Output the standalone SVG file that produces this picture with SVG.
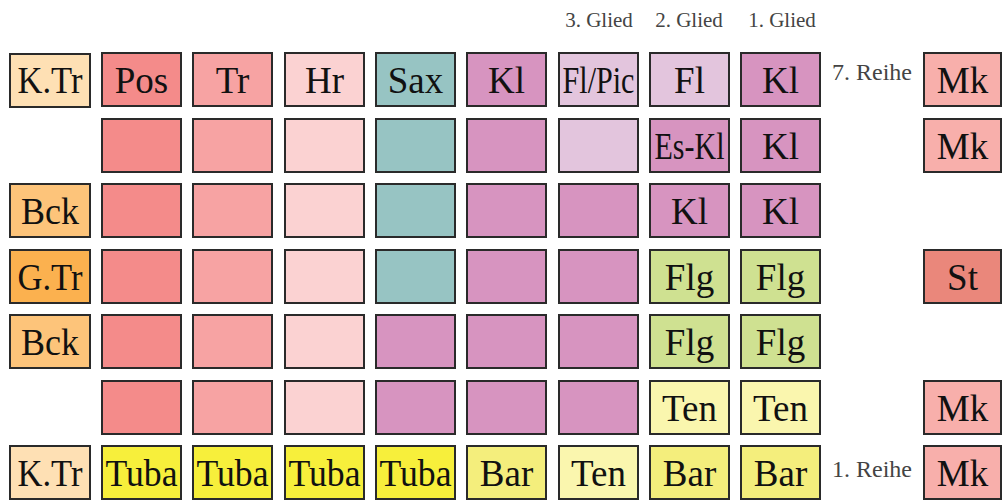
<svg xmlns="http://www.w3.org/2000/svg" width="1004" height="500" viewBox="0 0 1004 500">
<style>
rect{stroke:#2a2a2a;stroke-width:2}
text{font-family:'Liberation Serif','DejaVu Serif',serif}
.t{font-size:37px;fill:#111;text-anchor:middle}
.g{font-size:21px;fill:#444;text-anchor:middle}
.r{font-size:24px;fill:#444;text-anchor:middle}
.pos{fill:#F48B8A}.tr{fill:#F7A3A3}.hr{fill:#FBD2D2}.sax{fill:#97C4C3}.kl{fill:#D794C0}.fp{fill:#E3C5DD}
.ktr{fill:#FEE0B4}.bck{fill:#FDC47A}.gtr{fill:#FBB14F}.flg{fill:#CFE191}.ten{fill:#FAF6AE}.bar{fill:#F4EE7C}
.tuba{fill:#F7EF3B}.mk{fill:#F8AFAB}.st{fill:#EA877B}
</style>
<g id="labels">
<text class="g" x="599" y="27">3. Glied</text>
<text class="g" x="689" y="27">2. Glied</text>
<text class="g" x="782" y="27">1. Glied</text>
<text class="r" x="872" y="80">7. Reihe</text>
<text class="r" x="872" y="477">1. Reihe</text>
</g>
<g id="connectors"></g>
<!-- Row 1 -->
<g id="r1c0"><rect class="ktr" x="10" y="54" width="80" height="53"/><text class="t" x="50" y="93" textLength="65" lengthAdjust="spacingAndGlyphs">K.Tr</text></g>
<g id="r1c1"><rect class="pos" x="102" y="53" width="79" height="53"/><text class="t" x="141.5" y="93">Pos</text></g>
<g id="r1c2"><rect class="tr" x="193" y="53" width="79" height="53"/><text class="t" x="232.5" y="93">Tr</text></g>
<g id="r1c3"><rect class="hr" x="285" y="53" width="79" height="53"/><text class="t" x="324.5" y="93">Hr</text></g>
<g id="r1c4"><rect class="sax" x="376" y="53" width="79" height="53"/><text class="t" x="415.5" y="93">Sax</text></g>
<g id="r1c5"><rect class="kl" x="467" y="53" width="79" height="53"/><text class="t" x="506.5" y="93">Kl</text></g>
<g id="r1c6"><rect class="fp" x="559" y="53" width="79" height="53"/><text class="t" x="598.5" y="93" textLength="72" lengthAdjust="spacingAndGlyphs">Fl/Pic</text></g>
<g id="r1c7"><rect class="fp" x="650" y="53" width="79" height="53"/><text class="t" x="689.5" y="93">Fl</text></g>
<g id="r1c8"><rect class="kl" x="741" y="53" width="79" height="53"/><text class="t" x="780.5" y="93">Kl</text></g>
<g id="r1mk"><rect class="mk" x="924" y="53" width="77" height="53"/><text class="t" x="962.5" y="93">Mk</text></g>
<!-- Row 2 -->
<g id="r2c1"><rect class="pos" x="102" y="119" width="79" height="53"/></g>
<g id="r2c2"><rect class="tr" x="193" y="119" width="79" height="53"/></g>
<g id="r2c3"><rect class="hr" x="285" y="119" width="79" height="53"/></g>
<g id="r2c4"><rect class="sax" x="376" y="119" width="79" height="53"/></g>
<g id="r2c5"><rect class="kl" x="467" y="119" width="79" height="53"/></g>
<g id="r2c6"><rect class="fp" x="559" y="119" width="79" height="53"/></g>
<g id="r2c7"><rect class="kl" x="650" y="119" width="79" height="53"/><text class="t" x="689.5" y="159" textLength="70" lengthAdjust="spacingAndGlyphs">Es-Kl</text></g>
<g id="r2c8"><rect class="kl" x="741" y="119" width="79" height="53"/><text class="t" x="780.5" y="159">Kl</text></g>
<g id="r2mk"><rect class="mk" x="924" y="119" width="77" height="53"/><text class="t" x="962.5" y="159">Mk</text></g>
<!-- Row 3 -->
<g id="r3c0"><rect class="bck" x="10" y="184" width="80" height="53"/><text class="t" x="50" y="224" textLength="58" lengthAdjust="spacingAndGlyphs">Bck</text></g>
<g id="r3c1"><rect class="pos" x="102" y="184" width="79" height="53"/></g>
<g id="r3c2"><rect class="tr" x="193" y="184" width="79" height="53"/></g>
<g id="r3c3"><rect class="hr" x="285" y="184" width="79" height="53"/></g>
<g id="r3c4"><rect class="sax" x="376" y="184" width="79" height="53"/></g>
<g id="r3c5"><rect class="kl" x="467" y="184" width="79" height="53"/></g>
<g id="r3c6"><rect class="kl" x="559" y="184" width="79" height="53"/></g>
<g id="r3c7"><rect class="kl" x="650" y="184" width="79" height="53"/><text class="t" x="689.5" y="224">Kl</text></g>
<g id="r3c8"><rect class="kl" x="741" y="184" width="79" height="53"/><text class="t" x="780.5" y="224">Kl</text></g>
<!-- Row 4 -->
<g id="r4c0"><rect class="gtr" x="10" y="250" width="80" height="53"/><text class="t" x="50" y="290" textLength="65" lengthAdjust="spacingAndGlyphs">G.Tr</text></g>
<g id="r4c1"><rect class="pos" x="102" y="250" width="79" height="53"/></g>
<g id="r4c2"><rect class="tr" x="193" y="250" width="79" height="53"/></g>
<g id="r4c3"><rect class="hr" x="285" y="250" width="79" height="53"/></g>
<g id="r4c4"><rect class="sax" x="376" y="250" width="79" height="53"/></g>
<g id="r4c5"><rect class="kl" x="467" y="250" width="79" height="53"/></g>
<g id="r4c6"><rect class="kl" x="559" y="250" width="79" height="53"/></g>
<g id="r4c7"><rect class="flg" x="650" y="250" width="79" height="53"/><text class="t" x="689.5" y="290">Flg</text></g>
<g id="r4c8"><rect class="flg" x="741" y="250" width="79" height="53"/><text class="t" x="780.5" y="290">Flg</text></g>
<g id="r4st"><rect class="st" x="924" y="250" width="77" height="53"/><text class="t" x="962.5" y="290">St</text></g>
<!-- Row 5 -->
<g id="r5c0"><rect class="bck" x="10" y="315" width="80" height="53"/><text class="t" x="50" y="355" textLength="58" lengthAdjust="spacingAndGlyphs">Bck</text></g>
<g id="r5c1"><rect class="pos" x="102" y="315" width="79" height="53"/></g>
<g id="r5c2"><rect class="tr" x="193" y="315" width="79" height="53"/></g>
<g id="r5c3"><rect class="hr" x="285" y="315" width="79" height="53"/></g>
<g id="r5c4"><rect class="kl" x="376" y="315" width="79" height="53"/></g>
<g id="r5c5"><rect class="kl" x="467" y="315" width="79" height="53"/></g>
<g id="r5c6"><rect class="kl" x="559" y="315" width="79" height="53"/></g>
<g id="r5c7"><rect class="flg" x="650" y="315" width="79" height="53"/><text class="t" x="689.5" y="355">Flg</text></g>
<g id="r5c8"><rect class="flg" x="741" y="315" width="79" height="53"/><text class="t" x="780.5" y="355">Flg</text></g>
<!-- Row 6 -->
<g id="r6c1"><rect class="pos" x="102" y="381" width="79" height="53"/></g>
<g id="r6c2"><rect class="tr" x="193" y="381" width="79" height="53"/></g>
<g id="r6c3"><rect class="hr" x="285" y="381" width="79" height="53"/></g>
<g id="r6c4"><rect class="kl" x="376" y="381" width="79" height="53"/></g>
<g id="r6c5"><rect class="kl" x="467" y="381" width="79" height="53"/></g>
<g id="r6c6"><rect class="kl" x="559" y="381" width="79" height="53"/></g>
<g id="r6c7"><rect class="ten" x="650" y="381" width="79" height="53"/><text class="t" x="689.5" y="421">Ten</text></g>
<g id="r6c8"><rect class="ten" x="741" y="381" width="79" height="53"/><text class="t" x="780.5" y="421">Ten</text></g>
<g id="r6mk"><rect class="mk" x="924" y="381" width="77" height="53"/><text class="t" x="962.5" y="421">Mk</text></g>
<!-- Row 7 -->
<g id="r7c0"><rect class="ktr" x="10" y="446" width="80" height="53"/><text class="t" x="50" y="486" textLength="65" lengthAdjust="spacingAndGlyphs">K.Tr</text></g>
<g id="r7c1"><rect class="tuba" x="102" y="446" width="79" height="53"/><text class="t" x="141.5" y="486" textLength="72" lengthAdjust="spacingAndGlyphs">Tuba</text></g>
<g id="r7c2"><rect class="tuba" x="193" y="446" width="79" height="53"/><text class="t" x="232.5" y="486" textLength="72" lengthAdjust="spacingAndGlyphs">Tuba</text></g>
<g id="r7c3"><rect class="tuba" x="285" y="446" width="79" height="53"/><text class="t" x="324.5" y="486" textLength="72" lengthAdjust="spacingAndGlyphs">Tuba</text></g>
<g id="r7c4"><rect class="tuba" x="376" y="446" width="79" height="53"/><text class="t" x="415.5" y="486" textLength="72" lengthAdjust="spacingAndGlyphs">Tuba</text></g>
<g id="r7c5"><rect class="bar" x="467" y="446" width="79" height="53"/><text class="t" x="506.5" y="486">Bar</text></g>
<g id="r7c6"><rect class="ten" x="559" y="446" width="79" height="53"/><text class="t" x="598.5" y="486">Ten</text></g>
<g id="r7c7"><rect class="bar" x="650" y="446" width="79" height="53"/><text class="t" x="689.5" y="486">Bar</text></g>
<g id="r7c8"><rect class="bar" x="741" y="446" width="79" height="53"/><text class="t" x="780.5" y="486">Bar</text></g>
<g id="r7mk"><rect class="mk" x="924" y="446" width="77" height="53"/><text class="t" x="962.5" y="486">Mk</text></g>
</svg>
